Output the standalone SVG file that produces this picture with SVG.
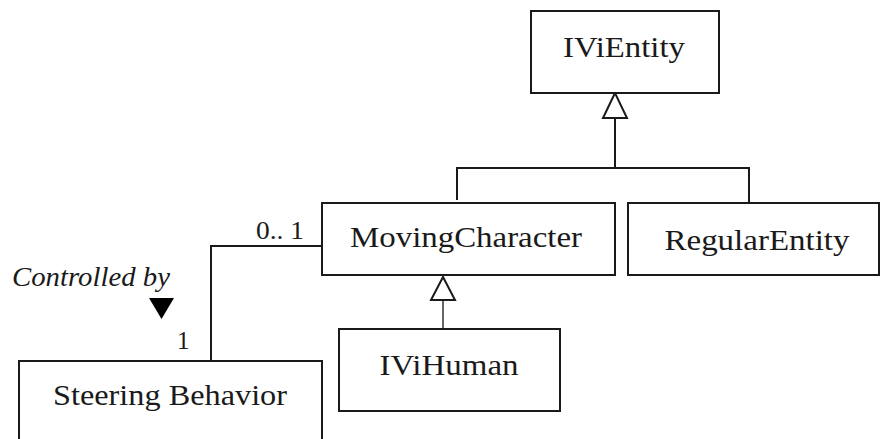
<svg xmlns="http://www.w3.org/2000/svg" width="880" height="439" viewBox="0 0 880 439">
<style>
.box{fill:#fff;stroke:#1a1a1a;stroke-width:2}
.lbl{font-family:'Liberation Serif','Times New Roman',Times,serif;font-size:30px;fill:#1a1a1a;text-anchor:middle}
.ln{fill:none;stroke:#1a1a1a;stroke-width:2}
.gen{fill:#fff;stroke:#1a1a1a;stroke-width:2}
.mult{font-family:'Liberation Serif','Times New Roman',Times,serif;font-size:25px;fill:#1a1a1a}
.ital{font-family:'Liberation Serif','Times New Roman',Times,serif;font-style:italic;font-size:27px;fill:#1a1a1a}
</style>
<rect width="880" height="439" fill="#fff"/>
<g id="connectors">
<path class="ln" d="M615,118 V168 M457,200 V168 H749 V203"/>
<polygon class="gen" points="615,93 603,118 627,118"/>
<path class="ln" d="M443,300 V329" style="stroke:#666"/>
<polygon class="gen" points="443,277 431,300 455,300"/>
<path class="ln" d="M211,361 V246 H322"/>
</g>
<g id="IViEntity">
<rect class="box" x="531" y="11" width="188" height="82"/>
<text class="lbl" x="624" y="57" textLength="122" lengthAdjust="spacingAndGlyphs">IViEntity</text>
</g>
<g id="MovingCharacter">
<rect class="box" x="322" y="203" width="293" height="72"/>
<text class="lbl" x="466" y="247" textLength="232" lengthAdjust="spacingAndGlyphs">MovingCharacter</text>
</g>
<g id="RegularEntity">
<rect class="box" x="628" y="203" width="251" height="72"/>
<text class="lbl" x="757" y="250" textLength="185" lengthAdjust="spacingAndGlyphs">RegularEntity</text>
</g>
<g id="IViHuman">
<rect class="box" x="339" y="329" width="221" height="82"/>
<text class="lbl" x="449" y="375" textLength="139" lengthAdjust="spacingAndGlyphs">IViHuman</text>
</g>
<g id="SteeringBehavior">
<rect class="box" x="19" y="361" width="303" height="90"/>
<text class="lbl" x="170" y="405" textLength="234" lengthAdjust="spacingAndGlyphs">Steering Behavior</text>
</g>
<g id="labels">
<text class="mult" x="256" y="239" textLength="48" lengthAdjust="spacingAndGlyphs">0.. 1</text>
<text class="mult" x="177" y="349">1</text>
<text class="ital" x="12" y="286" textLength="158" lengthAdjust="spacingAndGlyphs">Controlled by</text>
<polygon points="149,298 174,298 161.5,319" fill="#000"/>
</g>
</svg>
